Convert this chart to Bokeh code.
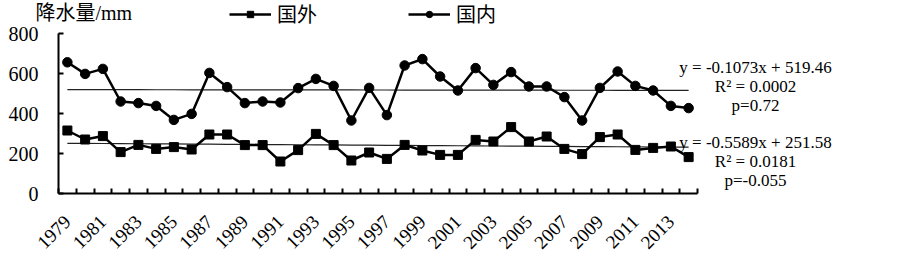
import math
from bokeh.plotting import figure
from bokeh.models import Range1d, FixedTicker, Label, Legend, LegendItem
from bokeh.embed import file_html
from bokeh.resources import INLINE

years = list(range(1979, 2015))
abroad = [315, 270, 287, 207, 243, 223, 232, 220, 295, 295, 242, 242,
          160, 217, 298, 242, 165, 205, 173, 243, 215, 193, 193, 268,
          260, 332, 260, 285, 223, 197, 282, 295, 218, 228, 235, 182]
domestic = [656, 598, 623, 460, 452, 438, 368, 398, 603, 532, 452, 460,
            455, 527, 573, 538, 365, 528, 392, 640, 672, 585, 515, 627,
            543, 607, 535, 535, 482, 365, 528, 610, 538, 515, 438, 427]
y_ticks = [0, 200, 400, 600, 800]
dom_fit = (-0.1073, 519.46)
abr_fit = (-0.5589, 251.58)
dom_text = ["y = -0.1073x + 519.46", "R\u00b2 = 0.0002", "p=0.72"]
abr_text = ["y = -0.5589x + 251.58", "R\u00b2 = 0.0181", "p=-0.055"]
labels = ["国外", "国内"]
y_title = "降水量/mm"

FONT = "'Liberation Serif', 'Times New Roman', 'Noto Sans CJK SC', serif"

n = len(years)
idx = list(range(n))

W, H = 903, 257
PX = 17.75          # pixels per category
PY = 0.2            # pixels per mm
LEFT = 58           # canvas x of the y axis
BOTTOM = 193        # canvas y of the x axis
x0 = -0.5 - LEFT / PX
x1 = x0 + W / PX
y0 = -(H - BOTTOM) / PY
y1 = BOTTOM / PY

def dx(px):
    return x0 + px / PX

def dy(py):
    return (BOTTOM - py) / PY

p = figure(width=W, height=H, x_range=Range1d(x0, x1),
           y_range=Range1d(y0, y1), output_backend="svg", toolbar_location=None,
           min_border_left=0, min_border_right=0, min_border_top=0,
           min_border_bottom=0)
p.grid.visible = False
p.outline_line_color = None
p.background_fill_color = "white"
p.border_fill_color = "white"

# trend lines
dom_trend = [dom_fit[0] * (i + 1) + dom_fit[1] for i in idx]
abr_trend = [abr_fit[0] * (i + 1) + abr_fit[1] for i in idx]
p.line(idx, dom_trend, line_color="#222222", line_width=1.2)
p.line(idx, abr_trend, line_color="#222222", line_width=1.2)

ra_l = p.line(idx, abroad, line_color="black", line_width=2.5)
ra_m = p.scatter(idx, abroad, marker="square", size=9, fill_color="black", line_color="black")
rd_l = p.line(idx, domestic, line_color="black", line_width=2.5)
rd_m = p.scatter(idx, domestic, marker="circle", size=9.5, fill_color="black", line_color="black")

# axes
xa = p.xaxis[0]
xa.fixed_location = 0
xa.bounds = (-0.5, n - 0.5)
xa.ticker = FixedTicker(ticks=list(range(0, n, 2)),
                        minor_ticks=[i - 0.5 for i in range(n + 1)])
xa.major_label_overrides = {i: str(years[i]) for i in range(0, n, 2)}
xa.major_label_orientation = math.pi / 4
xa.major_tick_in = 0
xa.major_tick_out = 0
xa.minor_tick_in = 5
xa.minor_tick_out = 0
xa.minor_tick_line_width = 2
xa.minor_tick_line_color = "black"
xa.axis_line_width = 2
xa.axis_line_color = "black"
xa.major_label_text_font = FONT
xa.major_label_text_font_size = "19px"
xa.major_label_text_color = "black"
xa.major_label_standoff = 25

ya = p.yaxis[0]
ya.fixed_location = -0.5
ya.bounds = (0, 800)
ya.ticker = FixedTicker(ticks=y_ticks)
ya.major_tick_in = 5
ya.major_tick_out = 0
ya.major_tick_line_width = 2
ya.major_tick_line_color = "black"
ya.minor_tick_line_color = None
ya.axis_line_width = 2
ya.axis_line_color = "black"
ya.major_label_text_font = FONT
ya.major_label_text_font_size = "20px"
ya.major_label_text_color = "black"
ya.major_label_standoff = 20

# legend (inside the full-canvas frame)
legend = Legend(items=[LegendItem(label=labels[0], renderers=[ra_l, ra_m]),
                       LegendItem(label=labels[1], renderers=[rd_l, rd_m])],
                orientation="horizontal", location=(229, H - 28),
                border_line_color=None, background_fill_alpha=0,
                padding=0, margin=0, spacing=91, glyph_width=42,
                glyph_height=16, label_standoff=6, label_height=20,
                label_text_font=FONT, label_text_font_size="20px",
                label_text_color="black")
p.add_layout(legend, "center")

# y title
p.add_layout(Label(x=dx(35), y=dy(12), text=y_title, text_align="left",
                   text_baseline="middle", text_font=FONT,
                   text_font_size="20px", text_color="black"))

# regression annotations
for lines, pys in ((dom_text, [66.7, 85.7, 105]), (abr_text, [141.7, 160.7, 180])):
    for t, py in zip(lines, pys):
        p.add_layout(Label(x=dx(755), y=dy(py), text=t, text_align="center",
                           text_baseline="middle", text_font=FONT,
                           text_font_size="17px", text_color="black"))

open("out.html", "w").write(file_html(p, INLINE))
